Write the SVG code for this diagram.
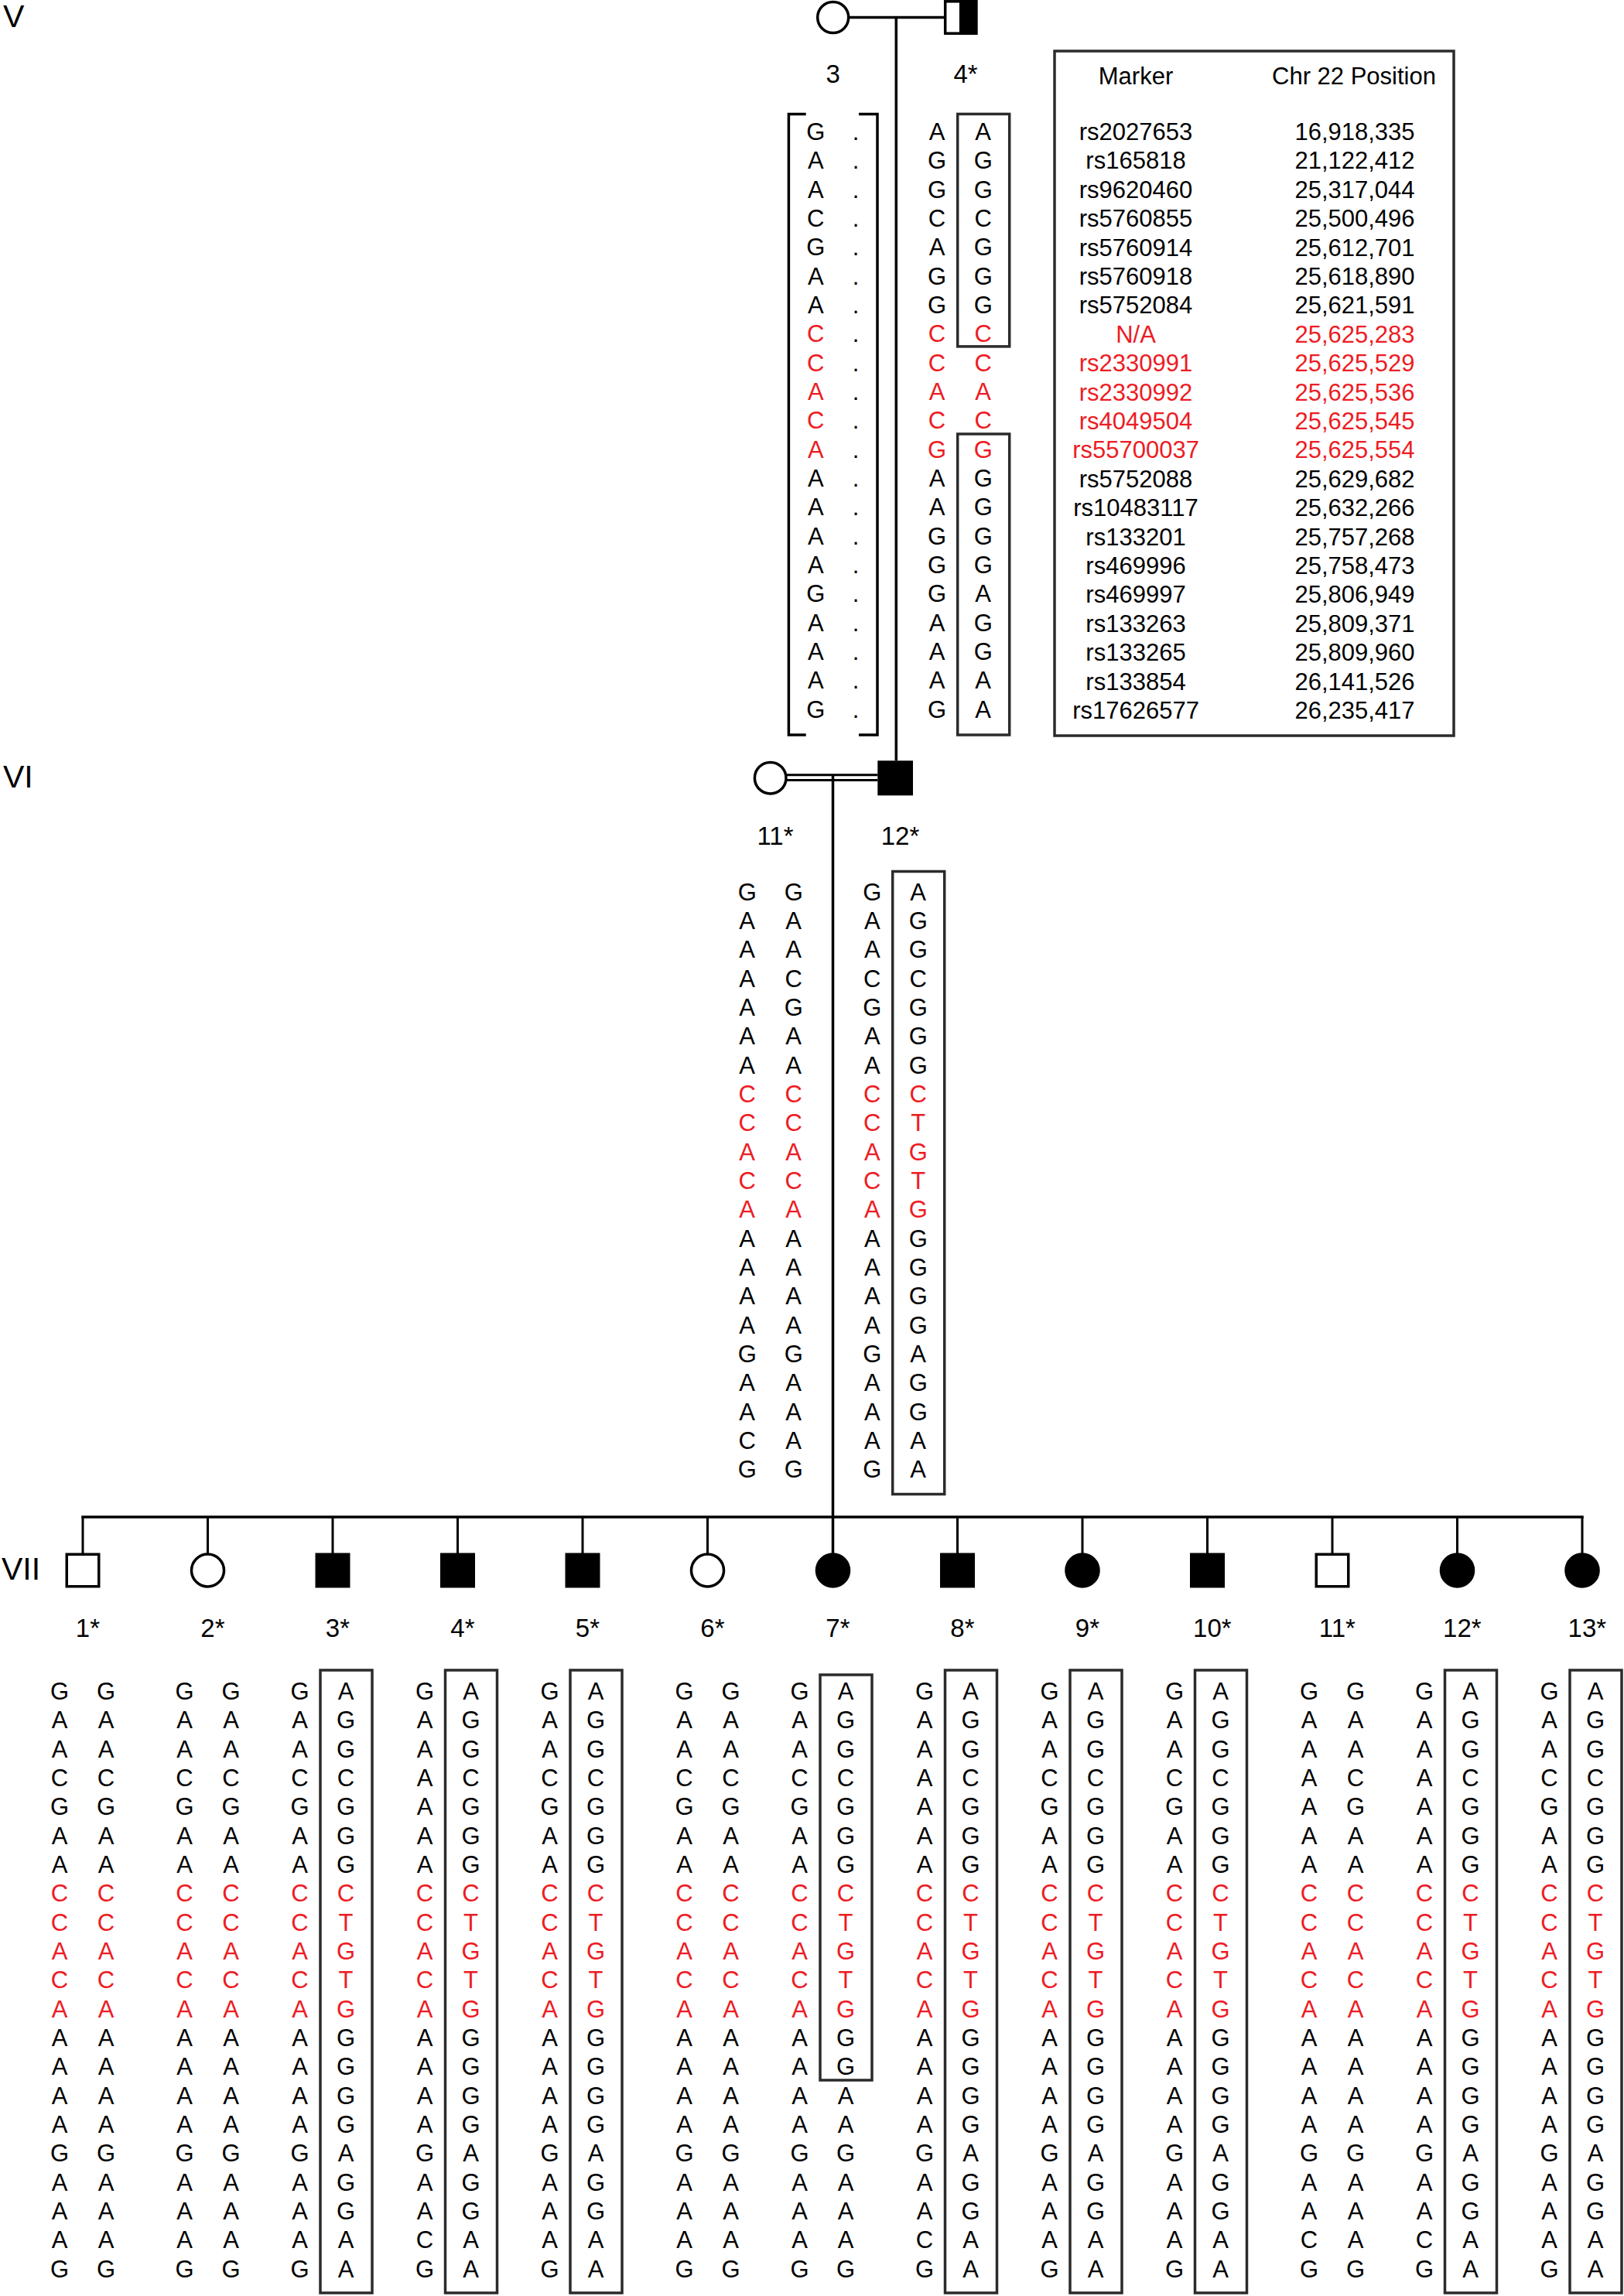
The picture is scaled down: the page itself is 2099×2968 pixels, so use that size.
<svg xmlns="http://www.w3.org/2000/svg" width="2099" height="2968" viewBox="0 0 2099 2968">
<style>
.t{font-family:"Liberation Sans",Arial,sans-serif;font-size:31px;fill:#000;text-anchor:middle}
.r{fill:#ED1C24}
.lbl{font-family:"Liberation Sans",Arial,sans-serif;font-size:33px;fill:#000;text-anchor:middle}
.gen{font-family:"Liberation Sans",Arial,sans-serif;font-size:41px;fill:#000}
.tb{font-family:"Liberation Sans",Arial,sans-serif;font-size:31px;fill:#000;text-anchor:middle}
.ln{stroke:#000;stroke-width:3.5;fill:none}
.ln3{stroke:#000;stroke-width:3;fill:none}
.open{fill:#fff;stroke:#000;stroke-width:3.5}
.aff{fill:#000;stroke:#000;stroke-width:3.5}
.box{fill:none;stroke:#2b2b2b;stroke-width:3.5}
</style>
<rect width="2099" height="2968" fill="#fff"/>

<g id="generation-labels">
<text class="gen" x="4" y="34.5">V</text>
<text class="gen" x="4" y="1017.5">VI</text>
<text class="gen" x="2" y="2041.7">VII</text>
</g>

<g id="connectors">
<line class="ln" x1="1096.7" y1="22.5" x2="1221.7" y2="22.5"/>
<line class="ln" x1="1158.3" y1="22.5" x2="1158.3" y2="983.3"/>
<line class="ln3" x1="1016" y1="1001.8" x2="1134.3" y2="1001.8"/>
<line class="ln3" x1="1016" y1="1008.5" x2="1134.3" y2="1008.5"/>
<line class="ln" x1="1076.5" y1="1001.8" x2="1076.5" y2="2009"/>
<line class="ln" x1="105.25" y1="1961" x2="2046.75" y2="1961"/>
<line class="ln3" x1="107" y1="1961" x2="107" y2="2009"/>
<line class="ln3" x1="268.5" y1="1961" x2="268.5" y2="2009"/>
<line class="ln3" x1="430" y1="1961" x2="430" y2="2009"/>
<line class="ln3" x1="591.5" y1="1961" x2="591.5" y2="2009"/>
<line class="ln3" x1="753" y1="1961" x2="753" y2="2009"/>
<line class="ln3" x1="914.5" y1="1961" x2="914.5" y2="2009"/>
<line class="ln3" x1="1237.5" y1="1961" x2="1237.5" y2="2009"/>
<line class="ln3" x1="1399" y1="1961" x2="1399" y2="2009"/>
<line class="ln3" x1="1560.5" y1="1961" x2="1560.5" y2="2009"/>
<line class="ln3" x1="1722" y1="1961" x2="1722" y2="2009"/>
<line class="ln3" x1="1883.5" y1="1961" x2="1883.5" y2="2009"/>
<line class="ln3" x1="2045" y1="1961" x2="2045" y2="2009"/>
</g>

<g id="V-3">
<circle class="open" cx="1076.7" cy="22.5" r="20"/>
<text class="lbl" x="1076.7" y="107">3</text>
<path class="ln" d="M1041.7,147.4 H1019.4 V950 H1041.7 M1110,147.4 H1134 V950 H1110"/>
<g class="t" transform="translate(1054.3,181)"><text>G</text><text y="37.33">A</text><text y="74.67">A</text><text y="112">C</text><text y="149.33">G</text><text y="186.67">A</text><text y="224">A</text><text y="261.33" class="r">C</text><text y="298.67" class="r">C</text><text y="336" class="r">A</text><text y="373.33" class="r">C</text><text y="410.67" class="r">A</text><text y="448">A</text><text y="485.33">A</text><text y="522.67">A</text><text y="560">A</text><text y="597.33">G</text><text y="634.67">A</text><text y="672">A</text><text y="709.33">A</text><text y="746.67">G</text></g>
<g class="t" transform="translate(1106,181)"><text>.</text><text y="37.33">.</text><text y="74.67">.</text><text y="112">.</text><text y="149.33">.</text><text y="186.67">.</text><text y="224">.</text><text y="261.33">.</text><text y="298.67">.</text><text y="336">.</text><text y="373.33">.</text><text y="410.67">.</text><text y="448">.</text><text y="485.33">.</text><text y="522.67">.</text><text y="560">.</text><text y="597.33">.</text><text y="634.67">.</text><text y="672">.</text><text y="709.33">.</text><text y="746.67">.</text></g>
</g>

<g id="V-4">
<rect x="1221.7" y="1.8" width="40" height="41.4" fill="#fff" stroke="#000" stroke-width="3.5"/>
<rect x="1241.7" y="1.8" width="20" height="41.4" fill="#000" stroke="#000" stroke-width="3.5"/>
<text class="lbl" x="1248" y="107">4*</text>
<rect class="box" x="1237.7" y="147.4" width="67" height="300.5"/>
<rect class="box" x="1237.7" y="561" width="67" height="389"/>
<g class="t" transform="translate(1211,181)"><text>A</text><text y="37.33">G</text><text y="74.67">G</text><text y="112">C</text><text y="149.33">A</text><text y="186.67">G</text><text y="224">G</text><text y="261.33" class="r">C</text><text y="298.67" class="r">C</text><text y="336" class="r">A</text><text y="373.33" class="r">C</text><text y="410.67" class="r">G</text><text y="448">A</text><text y="485.33">A</text><text y="522.67">G</text><text y="560">G</text><text y="597.33">G</text><text y="634.67">A</text><text y="672">A</text><text y="709.33">A</text><text y="746.67">G</text></g>
<g class="t" transform="translate(1270.7,181)"><text>A</text><text y="37.33">G</text><text y="74.67">G</text><text y="112">C</text><text y="149.33">G</text><text y="186.67">G</text><text y="224">G</text><text y="261.33" class="r">C</text><text y="298.67" class="r">C</text><text y="336" class="r">A</text><text y="373.33" class="r">C</text><text y="410.67" class="r">G</text><text y="448">G</text><text y="485.33">G</text><text y="522.67">G</text><text y="560">G</text><text y="597.33">A</text><text y="634.67">G</text><text y="672">G</text><text y="709.33">A</text><text y="746.67">A</text></g>
</g>

<g id="marker-table">
<rect x="1363" y="66" width="516" height="885" fill="none" stroke="#2b2b2b" stroke-width="3.5"/>
<text class="tb" x="1468" y="109">Marker</text>
<text class="tb" x="1750" y="109">Chr 22 Position</text>
<g class="tb">
<text x="1468" y="181">rs2027653</text><text x="1751" y="181">16,918,335</text>
<text x="1468" y="218.4">rs165818</text><text x="1751" y="218.4">21,122,412</text>
<text x="1468" y="255.8">rs9620460</text><text x="1751" y="255.8">25,317,044</text>
<text x="1468" y="293.2">rs5760855</text><text x="1751" y="293.2">25,500,496</text>
<text x="1468" y="330.6">rs5760914</text><text x="1751" y="330.6">25,612,701</text>
<text x="1468" y="368">rs5760918</text><text x="1751" y="368">25,618,890</text>
<text x="1468" y="405.4">rs5752084</text><text x="1751" y="405.4">25,621,591</text>
<text x="1468" y="442.8" class="r">N/A</text><text x="1751" y="442.8" class="r">25,625,283</text>
<text x="1468" y="480.2" class="r">rs2330991</text><text x="1751" y="480.2" class="r">25,625,529</text>
<text x="1468" y="517.6" class="r">rs2330992</text><text x="1751" y="517.6" class="r">25,625,536</text>
<text x="1468" y="555" class="r">rs4049504</text><text x="1751" y="555" class="r">25,625,545</text>
<text x="1468" y="592.4" class="r">rs55700037</text><text x="1751" y="592.4" class="r">25,625,554</text>
<text x="1468" y="629.8">rs5752088</text><text x="1751" y="629.8">25,629,682</text>
<text x="1468" y="667.2">rs10483117</text><text x="1751" y="667.2">25,632,266</text>
<text x="1468" y="704.6">rs133201</text><text x="1751" y="704.6">25,757,268</text>
<text x="1468" y="742">rs469996</text><text x="1751" y="742">25,758,473</text>
<text x="1468" y="779.4">rs469997</text><text x="1751" y="779.4">25,806,949</text>
<text x="1468" y="816.8">rs133263</text><text x="1751" y="816.8">25,809,371</text>
<text x="1468" y="854.2">rs133265</text><text x="1751" y="854.2">25,809,960</text>
<text x="1468" y="891.6">rs133854</text><text x="1751" y="891.6">26,141,526</text>
<text x="1468" y="929">rs17626577</text><text x="1751" y="929">26,235,417</text>
</g>
</g>

<g id="VI-11">
<circle class="open" cx="995.7" cy="1005.7" r="20.3"/>
<text class="lbl" x="1002" y="1091.7">11*</text>
<g class="t" transform="translate(965.7,1163.5)"><text>G</text><text y="37.33">A</text><text y="74.67">A</text><text y="112">A</text><text y="149.33">A</text><text y="186.67">A</text><text y="224">A</text><text y="261.33" class="r">C</text><text y="298.67" class="r">C</text><text y="336" class="r">A</text><text y="373.33" class="r">C</text><text y="410.67" class="r">A</text><text y="448">A</text><text y="485.33">A</text><text y="522.67">A</text><text y="560">A</text><text y="597.33">G</text><text y="634.67">A</text><text y="672">A</text><text y="709.33">C</text><text y="746.67">G</text></g>
<g class="t" transform="translate(1025.7,1163.5)"><text>G</text><text y="37.33">A</text><text y="74.67">A</text><text y="112">C</text><text y="149.33">G</text><text y="186.67">A</text><text y="224">A</text><text y="261.33" class="r">C</text><text y="298.67" class="r">C</text><text y="336" class="r">A</text><text y="373.33" class="r">C</text><text y="410.67" class="r">A</text><text y="448">A</text><text y="485.33">A</text><text y="522.67">A</text><text y="560">A</text><text y="597.33">G</text><text y="634.67">A</text><text y="672">A</text><text y="709.33">A</text><text y="746.67">G</text></g>
</g>

<g id="VI-12">
<rect x="1134.3" y="983.3" width="45.7" height="45" fill="#000"/>
<text class="lbl" x="1163.5" y="1091.7">12*</text>
<rect class="box" x="1153.7" y="1126.5" width="67" height="805"/>
<g class="t" transform="translate(1127.3,1163.5)"><text>G</text><text y="37.33">A</text><text y="74.67">A</text><text y="112">C</text><text y="149.33">G</text><text y="186.67">A</text><text y="224">A</text><text y="261.33" class="r">C</text><text y="298.67" class="r">C</text><text y="336" class="r">A</text><text y="373.33" class="r">C</text><text y="410.67" class="r">A</text><text y="448">A</text><text y="485.33">A</text><text y="522.67">A</text><text y="560">A</text><text y="597.33">G</text><text y="634.67">A</text><text y="672">A</text><text y="709.33">A</text><text y="746.67">G</text></g>
<g class="t" transform="translate(1186.7,1163.5)"><text>A</text><text y="37.33">G</text><text y="74.67">G</text><text y="112">C</text><text y="149.33">G</text><text y="186.67">G</text><text y="224">G</text><text y="261.33" class="r">C</text><text y="298.67" class="r">T</text><text y="336" class="r">G</text><text y="373.33" class="r">T</text><text y="410.67" class="r">G</text><text y="448">G</text><text y="485.33">G</text><text y="522.67">G</text><text y="560">G</text><text y="597.33">A</text><text y="634.67">G</text><text y="672">G</text><text y="709.33">A</text><text y="746.67">A</text></g>
</g>

<g id="VII-1">
<rect class="open" x="86.25" y="2009.25" width="41.5" height="41.5"/>
<text class="lbl" x="113.4" y="2116">1*</text>
<g class="t" transform="translate(77,2197)"><text>G</text><text y="37.33">A</text><text y="74.67">A</text><text y="112">C</text><text y="149.33">G</text><text y="186.67">A</text><text y="224">A</text><text y="261.33" class="r">C</text><text y="298.67" class="r">C</text><text y="336" class="r">A</text><text y="373.33" class="r">C</text><text y="410.67" class="r">A</text><text y="448">A</text><text y="485.33">A</text><text y="522.67">A</text><text y="560">A</text><text y="597.33">G</text><text y="634.67">A</text><text y="672">A</text><text y="709.33">A</text><text y="746.67">G</text></g>
<g class="t" transform="translate(137,2197)"><text>G</text><text y="37.33">A</text><text y="74.67">A</text><text y="112">C</text><text y="149.33">G</text><text y="186.67">A</text><text y="224">A</text><text y="261.33" class="r">C</text><text y="298.67" class="r">C</text><text y="336" class="r">A</text><text y="373.33" class="r">C</text><text y="410.67" class="r">A</text><text y="448">A</text><text y="485.33">A</text><text y="522.67">A</text><text y="560">A</text><text y="597.33">G</text><text y="634.67">A</text><text y="672">A</text><text y="709.33">A</text><text y="746.67">G</text></g>
</g>

<g id="VII-2">
<circle class="open" cx="268.5" cy="2030" r="21"/>
<text class="lbl" x="274.9" y="2116">2*</text>
<g class="t" transform="translate(238.5,2197)"><text>G</text><text y="37.33">A</text><text y="74.67">A</text><text y="112">C</text><text y="149.33">G</text><text y="186.67">A</text><text y="224">A</text><text y="261.33" class="r">C</text><text y="298.67" class="r">C</text><text y="336" class="r">A</text><text y="373.33" class="r">C</text><text y="410.67" class="r">A</text><text y="448">A</text><text y="485.33">A</text><text y="522.67">A</text><text y="560">A</text><text y="597.33">G</text><text y="634.67">A</text><text y="672">A</text><text y="709.33">A</text><text y="746.67">G</text></g>
<g class="t" transform="translate(298.5,2197)"><text>G</text><text y="37.33">A</text><text y="74.67">A</text><text y="112">C</text><text y="149.33">G</text><text y="186.67">A</text><text y="224">A</text><text y="261.33" class="r">C</text><text y="298.67" class="r">C</text><text y="336" class="r">A</text><text y="373.33" class="r">C</text><text y="410.67" class="r">A</text><text y="448">A</text><text y="485.33">A</text><text y="522.67">A</text><text y="560">A</text><text y="597.33">G</text><text y="634.67">A</text><text y="672">A</text><text y="709.33">A</text><text y="746.67">G</text></g>
</g>

<g id="VII-3">
<rect class="aff" x="409.25" y="2009.25" width="41.5" height="41.5"/>
<text class="lbl" x="436.4" y="2116">3*</text>
<rect class="box" x="414" y="2159" width="67" height="805"/>
<g class="t" transform="translate(387.5,2197)"><text>G</text><text y="37.33">A</text><text y="74.67">A</text><text y="112">C</text><text y="149.33">G</text><text y="186.67">A</text><text y="224">A</text><text y="261.33" class="r">C</text><text y="298.67" class="r">C</text><text y="336" class="r">A</text><text y="373.33" class="r">C</text><text y="410.67" class="r">A</text><text y="448">A</text><text y="485.33">A</text><text y="522.67">A</text><text y="560">A</text><text y="597.33">G</text><text y="634.67">A</text><text y="672">A</text><text y="709.33">A</text><text y="746.67">G</text></g>
<g class="t" transform="translate(447,2197)"><text>A</text><text y="37.33">G</text><text y="74.67">G</text><text y="112">C</text><text y="149.33">G</text><text y="186.67">G</text><text y="224">G</text><text y="261.33" class="r">C</text><text y="298.67" class="r">T</text><text y="336" class="r">G</text><text y="373.33" class="r">T</text><text y="410.67" class="r">G</text><text y="448">G</text><text y="485.33">G</text><text y="522.67">G</text><text y="560">G</text><text y="597.33">A</text><text y="634.67">G</text><text y="672">G</text><text y="709.33">A</text><text y="746.67">A</text></g>
</g>

<g id="VII-4">
<rect class="aff" x="570.75" y="2009.25" width="41.5" height="41.5"/>
<text class="lbl" x="597.9" y="2116">4*</text>
<rect class="box" x="575.5" y="2159" width="67" height="805"/>
<g class="t" transform="translate(549,2197)"><text>G</text><text y="37.33">A</text><text y="74.67">A</text><text y="112">A</text><text y="149.33">A</text><text y="186.67">A</text><text y="224">A</text><text y="261.33" class="r">C</text><text y="298.67" class="r">C</text><text y="336" class="r">A</text><text y="373.33" class="r">C</text><text y="410.67" class="r">A</text><text y="448">A</text><text y="485.33">A</text><text y="522.67">A</text><text y="560">A</text><text y="597.33">G</text><text y="634.67">A</text><text y="672">A</text><text y="709.33">C</text><text y="746.67">G</text></g>
<g class="t" transform="translate(608.5,2197)"><text>A</text><text y="37.33">G</text><text y="74.67">G</text><text y="112">C</text><text y="149.33">G</text><text y="186.67">G</text><text y="224">G</text><text y="261.33" class="r">C</text><text y="298.67" class="r">T</text><text y="336" class="r">G</text><text y="373.33" class="r">T</text><text y="410.67" class="r">G</text><text y="448">G</text><text y="485.33">G</text><text y="522.67">G</text><text y="560">G</text><text y="597.33">A</text><text y="634.67">G</text><text y="672">G</text><text y="709.33">A</text><text y="746.67">A</text></g>
</g>

<g id="VII-5">
<rect class="aff" x="732.25" y="2009.25" width="41.5" height="41.5"/>
<text class="lbl" x="759.4" y="2116">5*</text>
<rect class="box" x="737" y="2159" width="67" height="805"/>
<g class="t" transform="translate(710.5,2197)"><text>G</text><text y="37.33">A</text><text y="74.67">A</text><text y="112">C</text><text y="149.33">G</text><text y="186.67">A</text><text y="224">A</text><text y="261.33" class="r">C</text><text y="298.67" class="r">C</text><text y="336" class="r">A</text><text y="373.33" class="r">C</text><text y="410.67" class="r">A</text><text y="448">A</text><text y="485.33">A</text><text y="522.67">A</text><text y="560">A</text><text y="597.33">G</text><text y="634.67">A</text><text y="672">A</text><text y="709.33">A</text><text y="746.67">G</text></g>
<g class="t" transform="translate(770,2197)"><text>A</text><text y="37.33">G</text><text y="74.67">G</text><text y="112">C</text><text y="149.33">G</text><text y="186.67">G</text><text y="224">G</text><text y="261.33" class="r">C</text><text y="298.67" class="r">T</text><text y="336" class="r">G</text><text y="373.33" class="r">T</text><text y="410.67" class="r">G</text><text y="448">G</text><text y="485.33">G</text><text y="522.67">G</text><text y="560">G</text><text y="597.33">A</text><text y="634.67">G</text><text y="672">G</text><text y="709.33">A</text><text y="746.67">A</text></g>
</g>

<g id="VII-6">
<circle class="open" cx="914.5" cy="2030" r="21"/>
<text class="lbl" x="920.9" y="2116">6*</text>
<g class="t" transform="translate(884.5,2197)"><text>G</text><text y="37.33">A</text><text y="74.67">A</text><text y="112">C</text><text y="149.33">G</text><text y="186.67">A</text><text y="224">A</text><text y="261.33" class="r">C</text><text y="298.67" class="r">C</text><text y="336" class="r">A</text><text y="373.33" class="r">C</text><text y="410.67" class="r">A</text><text y="448">A</text><text y="485.33">A</text><text y="522.67">A</text><text y="560">A</text><text y="597.33">G</text><text y="634.67">A</text><text y="672">A</text><text y="709.33">A</text><text y="746.67">G</text></g>
<g class="t" transform="translate(944.5,2197)"><text>G</text><text y="37.33">A</text><text y="74.67">A</text><text y="112">C</text><text y="149.33">G</text><text y="186.67">A</text><text y="224">A</text><text y="261.33" class="r">C</text><text y="298.67" class="r">C</text><text y="336" class="r">A</text><text y="373.33" class="r">C</text><text y="410.67" class="r">A</text><text y="448">A</text><text y="485.33">A</text><text y="522.67">A</text><text y="560">A</text><text y="597.33">G</text><text y="634.67">A</text><text y="672">A</text><text y="709.33">A</text><text y="746.67">G</text></g>
</g>

<g id="VII-7">
<circle class="aff" cx="1076.5" cy="2030" r="21"/>
<text class="lbl" x="1082.9" y="2116">7*</text>
<rect class="box" x="1060" y="2165" width="67" height="524"/>
<g class="t" transform="translate(1033.5,2197)"><text>G</text><text y="37.33">A</text><text y="74.67">A</text><text y="112">C</text><text y="149.33">G</text><text y="186.67">A</text><text y="224">A</text><text y="261.33" class="r">C</text><text y="298.67" class="r">C</text><text y="336" class="r">A</text><text y="373.33" class="r">C</text><text y="410.67" class="r">A</text><text y="448">A</text><text y="485.33">A</text><text y="522.67">A</text><text y="560">A</text><text y="597.33">G</text><text y="634.67">A</text><text y="672">A</text><text y="709.33">A</text><text y="746.67">G</text></g>
<g class="t" transform="translate(1093,2197)"><text>A</text><text y="37.33">G</text><text y="74.67">G</text><text y="112">C</text><text y="149.33">G</text><text y="186.67">G</text><text y="224">G</text><text y="261.33" class="r">C</text><text y="298.67" class="r">T</text><text y="336" class="r">G</text><text y="373.33" class="r">T</text><text y="410.67" class="r">G</text><text y="448">G</text><text y="485.33">G</text><text y="522.67">A</text><text y="560">A</text><text y="597.33">G</text><text y="634.67">A</text><text y="672">A</text><text y="709.33">A</text><text y="746.67">G</text></g>
</g>

<g id="VII-8">
<rect class="aff" x="1216.75" y="2009.25" width="41.5" height="41.5"/>
<text class="lbl" x="1243.9" y="2116">8*</text>
<rect class="box" x="1221.5" y="2159" width="67" height="805"/>
<g class="t" transform="translate(1195,2197)"><text>G</text><text y="37.33">A</text><text y="74.67">A</text><text y="112">A</text><text y="149.33">A</text><text y="186.67">A</text><text y="224">A</text><text y="261.33" class="r">C</text><text y="298.67" class="r">C</text><text y="336" class="r">A</text><text y="373.33" class="r">C</text><text y="410.67" class="r">A</text><text y="448">A</text><text y="485.33">A</text><text y="522.67">A</text><text y="560">A</text><text y="597.33">G</text><text y="634.67">A</text><text y="672">A</text><text y="709.33">C</text><text y="746.67">G</text></g>
<g class="t" transform="translate(1254.5,2197)"><text>A</text><text y="37.33">G</text><text y="74.67">G</text><text y="112">C</text><text y="149.33">G</text><text y="186.67">G</text><text y="224">G</text><text y="261.33" class="r">C</text><text y="298.67" class="r">T</text><text y="336" class="r">G</text><text y="373.33" class="r">T</text><text y="410.67" class="r">G</text><text y="448">G</text><text y="485.33">G</text><text y="522.67">G</text><text y="560">G</text><text y="597.33">A</text><text y="634.67">G</text><text y="672">G</text><text y="709.33">A</text><text y="746.67">A</text></g>
</g>

<g id="VII-9">
<circle class="aff" cx="1399" cy="2030" r="21"/>
<text class="lbl" x="1405.4" y="2116">9*</text>
<rect class="box" x="1383" y="2159" width="67" height="805"/>
<g class="t" transform="translate(1356.5,2197)"><text>G</text><text y="37.33">A</text><text y="74.67">A</text><text y="112">C</text><text y="149.33">G</text><text y="186.67">A</text><text y="224">A</text><text y="261.33" class="r">C</text><text y="298.67" class="r">C</text><text y="336" class="r">A</text><text y="373.33" class="r">C</text><text y="410.67" class="r">A</text><text y="448">A</text><text y="485.33">A</text><text y="522.67">A</text><text y="560">A</text><text y="597.33">G</text><text y="634.67">A</text><text y="672">A</text><text y="709.33">A</text><text y="746.67">G</text></g>
<g class="t" transform="translate(1416,2197)"><text>A</text><text y="37.33">G</text><text y="74.67">G</text><text y="112">C</text><text y="149.33">G</text><text y="186.67">G</text><text y="224">G</text><text y="261.33" class="r">C</text><text y="298.67" class="r">T</text><text y="336" class="r">G</text><text y="373.33" class="r">T</text><text y="410.67" class="r">G</text><text y="448">G</text><text y="485.33">G</text><text y="522.67">G</text><text y="560">G</text><text y="597.33">A</text><text y="634.67">G</text><text y="672">G</text><text y="709.33">A</text><text y="746.67">A</text></g>
</g>

<g id="VII-10">
<rect class="aff" x="1539.75" y="2009.25" width="41.5" height="41.5"/>
<text class="lbl" x="1566.9" y="2116">10*</text>
<rect class="box" x="1544.5" y="2159" width="67" height="805"/>
<g class="t" transform="translate(1518,2197)"><text>G</text><text y="37.33">A</text><text y="74.67">A</text><text y="112">C</text><text y="149.33">G</text><text y="186.67">A</text><text y="224">A</text><text y="261.33" class="r">C</text><text y="298.67" class="r">C</text><text y="336" class="r">A</text><text y="373.33" class="r">C</text><text y="410.67" class="r">A</text><text y="448">A</text><text y="485.33">A</text><text y="522.67">A</text><text y="560">A</text><text y="597.33">G</text><text y="634.67">A</text><text y="672">A</text><text y="709.33">A</text><text y="746.67">G</text></g>
<g class="t" transform="translate(1577.5,2197)"><text>A</text><text y="37.33">G</text><text y="74.67">G</text><text y="112">C</text><text y="149.33">G</text><text y="186.67">G</text><text y="224">G</text><text y="261.33" class="r">C</text><text y="298.67" class="r">T</text><text y="336" class="r">G</text><text y="373.33" class="r">T</text><text y="410.67" class="r">G</text><text y="448">G</text><text y="485.33">G</text><text y="522.67">G</text><text y="560">G</text><text y="597.33">A</text><text y="634.67">G</text><text y="672">G</text><text y="709.33">A</text><text y="746.67">A</text></g>
</g>

<g id="VII-11">
<rect class="open" x="1701.25" y="2009.25" width="41.5" height="41.5"/>
<text class="lbl" x="1728.4" y="2116">11*</text>
<g class="t" transform="translate(1692,2197)"><text>G</text><text y="37.33">A</text><text y="74.67">A</text><text y="112">A</text><text y="149.33">A</text><text y="186.67">A</text><text y="224">A</text><text y="261.33" class="r">C</text><text y="298.67" class="r">C</text><text y="336" class="r">A</text><text y="373.33" class="r">C</text><text y="410.67" class="r">A</text><text y="448">A</text><text y="485.33">A</text><text y="522.67">A</text><text y="560">A</text><text y="597.33">G</text><text y="634.67">A</text><text y="672">A</text><text y="709.33">C</text><text y="746.67">G</text></g>
<g class="t" transform="translate(1752,2197)"><text>G</text><text y="37.33">A</text><text y="74.67">A</text><text y="112">C</text><text y="149.33">G</text><text y="186.67">A</text><text y="224">A</text><text y="261.33" class="r">C</text><text y="298.67" class="r">C</text><text y="336" class="r">A</text><text y="373.33" class="r">C</text><text y="410.67" class="r">A</text><text y="448">A</text><text y="485.33">A</text><text y="522.67">A</text><text y="560">A</text><text y="597.33">G</text><text y="634.67">A</text><text y="672">A</text><text y="709.33">A</text><text y="746.67">G</text></g>
</g>

<g id="VII-12">
<circle class="aff" cx="1883.5" cy="2030" r="21"/>
<text class="lbl" x="1889.9" y="2116">12*</text>
<rect class="box" x="1867.5" y="2159" width="67" height="805"/>
<g class="t" transform="translate(1841,2197)"><text>G</text><text y="37.33">A</text><text y="74.67">A</text><text y="112">A</text><text y="149.33">A</text><text y="186.67">A</text><text y="224">A</text><text y="261.33" class="r">C</text><text y="298.67" class="r">C</text><text y="336" class="r">A</text><text y="373.33" class="r">C</text><text y="410.67" class="r">A</text><text y="448">A</text><text y="485.33">A</text><text y="522.67">A</text><text y="560">A</text><text y="597.33">G</text><text y="634.67">A</text><text y="672">A</text><text y="709.33">C</text><text y="746.67">G</text></g>
<g class="t" transform="translate(1900.5,2197)"><text>A</text><text y="37.33">G</text><text y="74.67">G</text><text y="112">C</text><text y="149.33">G</text><text y="186.67">G</text><text y="224">G</text><text y="261.33" class="r">C</text><text y="298.67" class="r">T</text><text y="336" class="r">G</text><text y="373.33" class="r">T</text><text y="410.67" class="r">G</text><text y="448">G</text><text y="485.33">G</text><text y="522.67">G</text><text y="560">G</text><text y="597.33">A</text><text y="634.67">G</text><text y="672">G</text><text y="709.33">A</text><text y="746.67">A</text></g>
</g>

<g id="VII-13">
<circle class="aff" cx="2045" cy="2030" r="21"/>
<text class="lbl" x="2051.4" y="2116">13*</text>
<rect class="box" x="2029" y="2159" width="67" height="805"/>
<g class="t" transform="translate(2002.5,2197)"><text>G</text><text y="37.33">A</text><text y="74.67">A</text><text y="112">C</text><text y="149.33">G</text><text y="186.67">A</text><text y="224">A</text><text y="261.33" class="r">C</text><text y="298.67" class="r">C</text><text y="336" class="r">A</text><text y="373.33" class="r">C</text><text y="410.67" class="r">A</text><text y="448">A</text><text y="485.33">A</text><text y="522.67">A</text><text y="560">A</text><text y="597.33">G</text><text y="634.67">A</text><text y="672">A</text><text y="709.33">A</text><text y="746.67">G</text></g>
<g class="t" transform="translate(2062,2197)"><text>A</text><text y="37.33">G</text><text y="74.67">G</text><text y="112">C</text><text y="149.33">G</text><text y="186.67">G</text><text y="224">G</text><text y="261.33" class="r">C</text><text y="298.67" class="r">T</text><text y="336" class="r">G</text><text y="373.33" class="r">T</text><text y="410.67" class="r">G</text><text y="448">G</text><text y="485.33">G</text><text y="522.67">G</text><text y="560">G</text><text y="597.33">A</text><text y="634.67">G</text><text y="672">G</text><text y="709.33">A</text><text y="746.67">A</text></g>
</g>
</svg>
